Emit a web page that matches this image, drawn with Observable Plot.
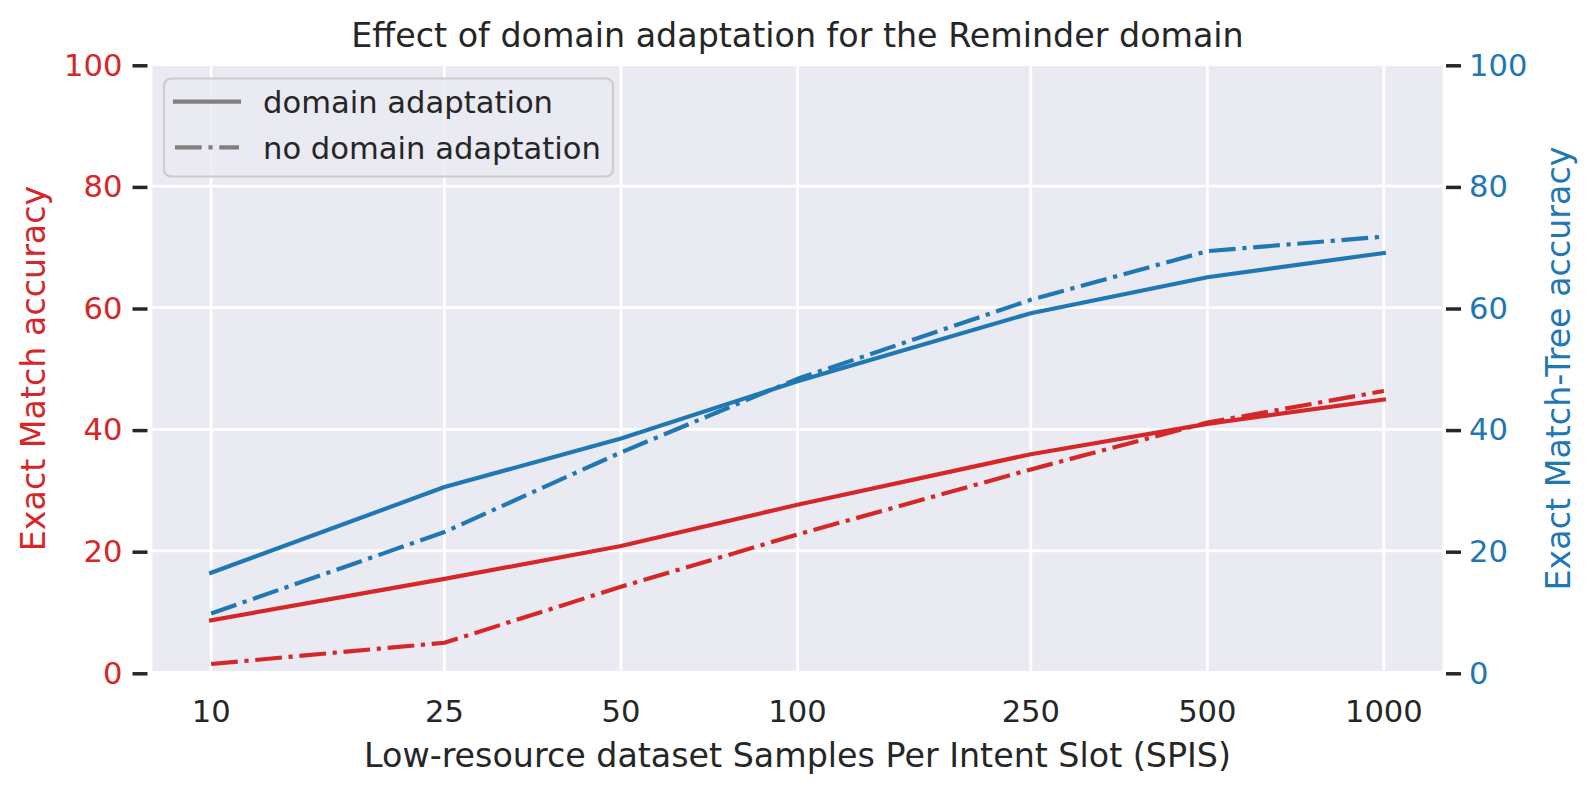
<!DOCTYPE html>
<html><head><meta charset="utf-8">
<script src="https://cdn.jsdelivr.net/npm/d3@7"></script>
<script src="https://cdn.jsdelivr.net/npm/@observablehq/plot@0.6"></script>
<style>
body{margin:0;background:#fff;}
#wrap{position:relative;width:1592px;height:792px;}
#legend{position:absolute;left:0;top:0;pointer-events:none;}
</style></head><body><div id="wrap"></div>
<script>
// ---- data ----
const spis = [10, 25, 50, 100, 250, 500, 1000];
const emDA = [8.6, 15.4, 20.8, 27.6, 35.9, 40.9, 44.9];
const emNoDA = [1.4, 4.9, 14.1, 22.7, 33.4, 41.1, 46.3];
const treeDA = [16.4, 30.5, 38.5, 47.9, 59.1, 65.0, 69.0];
const treeNoDA = [9.7, 23.1, 36.2, 48.3, 61.3, 69.3, 71.7];
const yTicks = [0, 20, 40, 60, 80, 100];
const legendLabels = ["domain adaptation", "no domain adaptation"];
const titleText = "Effect of domain adaptation for the Reminder domain";
const xLabel = "Low-resource dataset Samples Per Intent Slot (SPIS)";
const yLabelLeft = "Exact Match accuracy";
const yLabelRight = "Exact Match-Tree accuracy";

// ---- style ----
const W = 1592, H = 792;
const mL = 152, mR = 150, mT = 64, mB = 120;
const red = "#d62728", blue = "#1f77b4", ink = "#262626";
const lw = 4.17;
const dashdot = "26.7,6.7,4.2,6.7";
const font = "DejaVu Sans";

const series = [
  {key: "emDA", values: emDA, color: red, dash: null},
  {key: "emNoDA", values: emNoDA, color: red, dash: dashdot},
  {key: "treeDA", values: treeDA, color: blue, dash: null},
  {key: "treeNoDA", values: treeNoDA, color: blue, dash: dashdot}
];

const lineMarks = series.map(s => Plot.line(
  spis.map((x, i) => ({x, y: s.values[i]})),
  {x: "x", y: "y", stroke: s.color, strokeWidth: lw,
   strokeDasharray: s.dash, strokeLinecap: s.dash ? "butt" : "square", strokeLinejoin: "round"}
));

const chart = Plot.plot({
  width: W, height: H,
  marginLeft: mL, marginRight: mR, marginTop: mT, marginBottom: mB,
  style: {fontFamily: font, fontSize: "30.6px", color: ink, background: "white", overflow: "visible"},
  x: {type: "log", domain: [Math.pow(10, 0.9), Math.pow(10, 3.1)]},
  y: {domain: [0, 100]},
  marks: [
    Plot.frame({fill: "#EAEAF2", stroke: null}),
    Plot.gridX(spis, {stroke: "white", strokeOpacity: 1, strokeWidth: 2.78}),
    Plot.gridY(yTicks, {stroke: "white", strokeOpacity: 1, strokeWidth: 2.78}),
    ...lineMarks,
    Plot.axisX(spis, {tickSize: 0, tickPadding: 28, fill: ink, fontSize: 30.6, tickFormat: d => String(d), label: null}),
    Plot.axisY(yTicks, {anchor: "left", tickSize: 15, tickPadding: 10.5, dx: -4.5, dy: 1.3, fill: red, stroke: ink, strokeWidth: 3.5, fontSize: 30.6, label: null}),
    Plot.axisY(yTicks, {anchor: "right", tickSize: 15, tickPadding: 8.6, dx: 3, dy: 1.3, fill: blue, stroke: ink, strokeWidth: 3.5, fontSize: 30.6, label: null}),
    Plot.text([titleText], {frameAnchor: "top", text: d => d, dy: -18, lineAnchor: "bottom", textAnchor: "middle", fontSize: 33.3, fill: ink}),
    Plot.text([xLabel], {frameAnchor: "bottom", text: d => d, dy: 94, lineAnchor: "bottom", textAnchor: "middle", fontSize: 33.3, fill: ink}),
    Plot.text([yLabelLeft], {frameAnchor: "left", text: d => d, dx: -108, rotate: -90, lineAnchor: "bottom", textAnchor: "middle", fontSize: 33.3, fill: red}),
    Plot.text([yLabelRight], {frameAnchor: "right", text: d => d, dx: 127, rotate: -90, lineAnchor: "bottom", textAnchor: "middle", fontSize: 33.3, fill: blue})
  ]
});
const wrap = document.getElementById("wrap");
wrap.appendChild(chart);

// ---- legend ----
const lg = d3.select(wrap).append("svg").attr("id", "legend").attr("width", W).attr("height", H);
lg.append("rect").attr("x", 164).attr("y", 78.5).attr("width", 449).attr("height", 98)
  .attr("rx", 7).attr("fill", "rgba(234,234,242,0.8)").attr("stroke", "#cccccc").attr("stroke-width", 2.2);
const ent = lg.selectAll("g.e").data(legendLabels).join("g").attr("class", "e")
  .attr("transform", (d, i) => `translate(0,${101.7 + i * 45.6})`);
ent.append("line").attr("x1", 175).attr("x2", 239).attr("y1", 0).attr("y2", 0)
  .attr("stroke", "#808080").attr("stroke-width", lw)
  .attr("stroke-dasharray", (d, i) => i === 1 ? dashdot : null)
  .attr("stroke-linecap", (d, i) => i === 1 ? "butt" : "square");
ent.append("text").attr("x", 263).attr("y", 11.6).text(d => d)
  .attr("font-family", font).attr("font-size", 30.6).attr("fill", ink);
</script></body></html>
